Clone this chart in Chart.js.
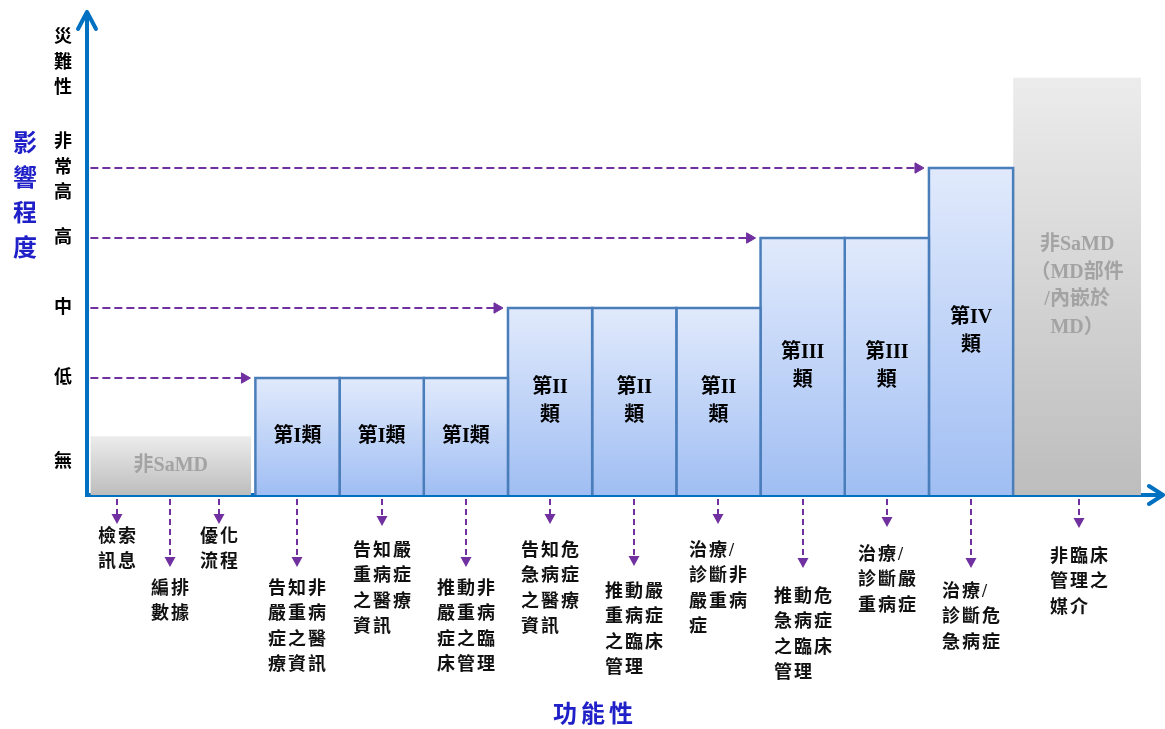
<!DOCTYPE html>
<html><head><meta charset="utf-8">
<script src="https://cdn.jsdelivr.net/npm/chart.js@4.4.1/dist/chart.umd.min.js"></script>
<style>html,body{margin:0;padding:0;background:#fff;overflow:hidden;}#wrap{width:1165px;height:729px;position:relative;}canvas{display:block;}</style>
</head><body><div id="wrap"><canvas id="c" width="1165" height="729"></canvas></div>
<script>
// ---------------- data ----------------
const impactLevels = ['無', '低', '中', '高', '非常高', '災難性'];
const impactValues = [-0.21, 1, 2, 3, 4, 5.5];

const barKinds  = ['non', 'sa', 'sa', 'sa', 'sa', 'sa', 'sa', 'sa', 'sa', 'sa', 'non'];
const barLabels = [['非SaMD'], ['第I類'], ['第I類'], ['第I類'], ['第II', '類'], ['第II', '類'], ['第II', '類'],
                   ['第III', '類'], ['第III', '類'], ['第IV', '類'], ['非SaMD', '（MD部件', '/內嵌於', 'MD）']];
const barImpact = [0.17, 1, 1, 1, 2, 2, 2, 3, 3, 4, 5.29];
const barFrom   = [-1.96, 0, 1, 2, 3, 4, 5, 6, 7, 8, 9];
const barTo     = [-0.05, 1, 2, 3, 4, 5, 6, 7, 8, 9, 10.52];

const functionLabels = [
  ['檢索', '訊息'], ['編排', '數據'], ['優化', '流程'],
  ['告知非', '嚴重病', '症之醫', '療資訊'],
  ['告知嚴', '重病症', '之醫療', '資訊'],
  ['推動非', '嚴重病', '症之臨', '床管理'],
  ['告知危', '急病症', '之醫療', '資訊'],
  ['推動嚴', '重病症', '之臨床', '管理'],
  ['治療/', '診斷非', '嚴重病', '症'],
  ['推動危', '急病症', '之臨床', '管理'],
  ['治療/', '診斷嚴', '重病症'],
  ['治療/', '診斷危', '急病症'],
  ['非臨床', '管理之', '媒介']
];
const functionPos = [-1.64, -1.01, -0.43, 0.5, 1.5, 2.5, 3.5, 4.5, 5.5, 6.5, 7.5, 8.5, 9.78];

const arrowLevels = [1, 2, 3, 4];
const xTitle = '功能性';
const yTitle = '影響程度';

// ---------------- layout / style ----------------
const Y_MIN = -0.671, Y_MAX = 6.2, X_MIN = -2, X_MAX = 10.78;
const AXIS = '#0070c0', PURPLE = '#7030a0', TITLE = '#2020c8';
const SERIF = "'Liberation Serif', 'Noto Sans CJK TC', serif";
const tipOffset  = [29, 72, 29, 72, 31, 72, 29, 71, 29, 73, 32, 73, 33];
const textOffset = [42, 94, 42, 94, 56, 94, 56, 97, 56, 102, 60, 97, 62];

function vGrad(ctx, top, c1, c2) {
  const chart = ctx.chart, ca = chart.chartArea;
  if (!ca || !chart.scales.y) return c2;
  const yTop = chart.scales.y.getPixelForValue(top);
  const g = chart.ctx.createLinearGradient(0, yTop, 0, ca.bottom);
  g.addColorStop(0, c1); g.addColorStop(1, c2);
  return g;
}

const barSets = barFrom.map((x0, i) => {
  const sa = barKinds[i] === 'sa';
  const h = barImpact[i];
  return {
    type: 'line',
    data: [{x: x0, y: Y_MIN}, {x: x0, y: h}, {x: barTo[i], y: h}, {x: barTo[i], y: Y_MIN}],
    fill: 'start',
    borderColor: sa ? '#4a7ebb' : 'rgba(0,0,0,0)',
    borderWidth: sa ? 2.5 : 0,
    borderJoinStyle: 'miter',
    backgroundColor: c => sa ? vGrad(c, h, '#e1eafc', '#a0bef3') : vGrad(c, h, '#ececec', '#bdbdbd'),
    pointRadius: 0, tension: 0, order: 2
  };
});

const arrowSets = arrowLevels.map(L => {
  const idx = barImpact.findIndex((v, i) => v === L && barKinds[i] === 'sa');
  return {
    type: 'line',
    data: [{x: barFrom[0], y: L}, {x: barFrom[idx] - 0.13, y: L}],
    borderColor: PURPLE, borderWidth: 2, borderDash: [8, 4], fill: false,
    pointStyle: 'triangle', pointRotation: 90,
    pointRadius: c => c.dataIndex === 1 ? 6 : 0,
    pointBackgroundColor: PURPLE, pointBorderColor: PURPLE, pointBorderWidth: 1,
    tension: 0, order: 1
  };
});

function drawLines(ctx, lines, cx, cy, lh) {
  const y0 = cy - (lines.length - 1) * lh / 2;
  lines.forEach((t, k) => ctx.fillText(t, cx, y0 + k * lh));
}

const decor = {
  id: 'decor',
  afterDraw(chart) {
    const ctx = chart.ctx, ca = chart.chartArea;
    const xs = chart.scales.x, ys = chart.scales.y;
    ctx.save();
    // axis arrow heads
    ctx.strokeStyle = AXIS; ctx.lineWidth = 4; ctx.lineCap = 'round'; ctx.lineJoin = 'round';
    ctx.beginPath();
    ctx.moveTo(ca.left - 9, ca.top + 15); ctx.lineTo(ca.left, ca.top - 2); ctx.lineTo(ca.left + 9, ca.top + 15);
    ctx.moveTo(ca.left, ca.top + 2); ctx.lineTo(ca.left, ca.top - 2);
    ctx.stroke();
    ctx.beginPath();
    ctx.moveTo(ca.right - 14, ca.bottom - 9); ctx.lineTo(ca.right, ca.bottom); ctx.lineTo(ca.right - 14, ca.bottom + 9);
    ctx.stroke();

    // bar labels
    ctx.textAlign = 'center'; ctx.textBaseline = 'middle';
    barFrom.forEach((x0, i) => {
      const cx = (xs.getPixelForValue(x0) + xs.getPixelForValue(barTo[i])) / 2;
      const cy = (ys.getPixelForValue(barImpact[i]) + ca.bottom) / 2;
      const sa = barKinds[i] === 'sa';
      ctx.fillStyle = sa ? '#000' : '#a3a3a3';
      ctx.font = 'bold 20px ' + SERIF;
      drawLines(ctx, barLabels[i], cx, cy, sa ? 28 : 27.5);
    });

    // function arrows and labels
    functionPos.forEach((fx, i) => {
      const px = Math.round(xs.getPixelForValue(fx));
      const tip = ca.bottom + tipOffset[i];
      ctx.strokeStyle = PURPLE; ctx.lineWidth = 2; ctx.lineCap = 'butt';
      ctx.setLineDash([6, 4]);
      ctx.beginPath(); ctx.moveTo(px, ca.bottom + 4); ctx.lineTo(px, tip - 8); ctx.stroke();
      ctx.setLineDash([]);
      ctx.fillStyle = PURPLE;
      ctx.beginPath(); ctx.moveTo(px - 5.5, tip - 10); ctx.lineTo(px + 5.5, tip - 10); ctx.lineTo(px, tip); ctx.closePath(); ctx.fill();

      ctx.fillStyle = '#111';
      ctx.font = 'bold 18px ' + SERIF;
      ctx.letterSpacing = '2px';
      ctx.textAlign = 'left';
      const w = Math.max(...functionLabels[i].map(t => ctx.measureText(t).width));
      const left = px - w / 2 + 1;
      functionLabels[i].forEach((t, k) => ctx.fillText(t, left, ca.bottom + textOffset[i] + k * 25.5));
      ctx.letterSpacing = '0px';
    });

    // axis titles
    ctx.fillStyle = TITLE;
    ctx.textAlign = 'center';
    ctx.font = 'bold 24px ' + SERIF;
    [...yTitle].forEach((ch, k) => ctx.fillText(ch, 25, 145 + k * 35));
    ctx.letterSpacing = '4px';
    ctx.fillText(xTitle, 595, 716);
    ctx.restore();
  }
};

new Chart(document.getElementById('c'), {
  type: 'line',
  data: {datasets: [...arrowSets, ...barSets]},
  options: {
    responsive: false, animation: false, events: [],
    layout: {autoPadding: false, padding: {top: 14, right: 2, left: 0, bottom: 0}},
    plugins: {legend: {display: false}, tooltip: {enabled: false}},
    scales: {
      x: {
        type: 'linear', min: X_MIN, max: X_MAX,
        ticks: {display: false}, grid: {display: false, drawTicks: false},
        border: {display: true, color: AXIS, width: 4},
        afterFit: s => { s.height = 234; s.paddingLeft = 0; s.paddingRight = 0; }
      },
      y: {
        type: 'linear', min: Y_MIN, max: Y_MAX,
        grid: {display: false, drawTicks: false},
        border: {display: true, color: AXIS, width: 4},
        afterBuildTicks: s => { s.ticks = impactValues.map(v => ({value: v})); },
        ticks: {
          autoSkip: false, padding: 15, color: '#000',
          font: {family: SERIF, size: 18, weight: 'bold', lineHeight: 1.4},
          callback: (v, i) => [...impactLevels[i]]
        },
        afterFit: s => { s.width = 87; s.paddingTop = 0; s.paddingBottom = 0; }
      }
    }
  },
  plugins: [decor]
});
</script>
</body></html>
